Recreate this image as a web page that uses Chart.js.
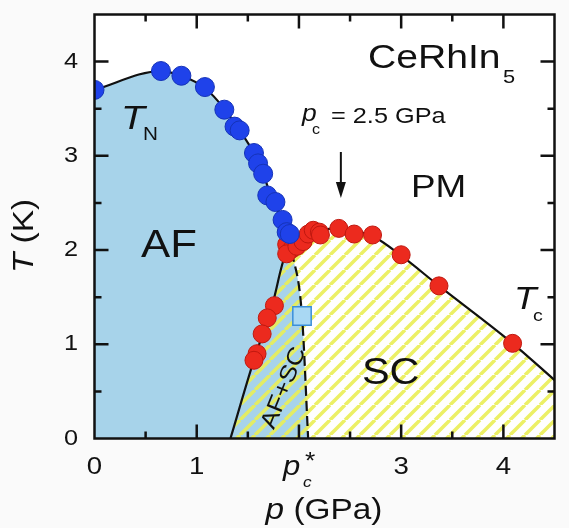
<!DOCTYPE html>
<html lang="en">
<head>
    <meta charset="UTF-8">
    <title>CeRhIn5 phase diagram</title>
    <script src="https://cdn.jsdelivr.net/npm/chart.js"></script>
    <style>
        html, body { margin: 0; padding: 0; background: #fafafa; }
        #wrap { width: 569px; height: 528px; }
    </style>
</head>
<body>
    <div id="wrap"><canvas id="myChart"></canvas></div>
    <script>
        // Neel temperature points (blue)
        const tnP = [0.00, 0.65, 0.85, 1.08, 1.27, 1.37, 1.42, 1.56, 1.60, 1.65, 1.69, 1.77, 1.84, 1.88, 1.91];
        const tnT = [3.70, 3.90, 3.85, 3.73, 3.49, 3.31, 3.27, 3.03, 2.92, 2.81, 2.58, 2.51, 2.32, 2.19, 2.17];

        // superconducting Tc points (red)
        const tcP = [1.88, 1.93, 1.88, 1.98, 2.04, 2.09, 2.14, 2.20, 2.21, 2.39, 2.54, 2.72, 3.00, 3.37, 4.09,
                     1.76, 1.69, 1.64, 1.59, 1.56];
        const tcT = [2.06, 2.01, 1.96, 2.04, 2.09, 2.17, 2.21, 2.19, 2.16, 2.23, 2.17, 2.16, 1.95, 1.62, 1.01,
                     1.41, 1.28, 1.11, 0.90, 0.83];

        // p_c* marker (square)
        const sqP = [2.03];
        const sqT = [1.30];

        // T_N boundary, last part is the dashed AF / AF+SC line
        const tnLineP = [0.00, 0.65, 0.85, 1.08, 1.27, 1.42, 1.56, 1.65, 1.73, 1.84, 1.90, 1.93, 2.03, 2.09];
        const tnLineT = [3.70, 3.90, 3.85, 3.72, 3.50, 3.27, 3.03, 2.82, 2.55, 2.32, 2.12, 1.98, 1.30, 0.00];
        const dashFrom = 11;

        // AF+SC left boundary then Tc line
        const scLineP = [1.33, 1.55, 1.74, 1.87, 1.93, 2.04, 2.15, 2.40, 2.60, 2.75, 3.00, 3.37, 4.09, 4.50];
        const scLineT = [0.00, 0.80, 1.42, 1.95, 1.99, 2.10, 2.19, 2.23, 2.19, 2.13, 1.94, 1.62, 1.01, 0.62];

        const xTicks = [0, 1, 2, 3, 4];
        const yTicks = [0, 1, 2, 3, 4];

        const xy = (ps, ts) => ps.map((p, i) => ({ x: p, y: ts[i] }));

        const FONT = '"Liberation Sans", Arial, sans-serif';
        const SX = 1.15; // text in the picture is a bit wide

        function makeHatch() {
            const s = 15;
            const c = document.createElement('canvas');
            c.width = s; c.height = s;
            const g = c.getContext('2d');
            g.strokeStyle = 'rgba(234,238,84,0.9)';
            g.lineWidth = 3.5;
            g.beginPath();
            [-s, 0, s].forEach(k => { g.moveTo(k, s); g.lineTo(k + s, 0); });
            g.stroke();
            return g.createPattern(c, 'repeat');
        }

        function txt(ctx, s, x, y, size, opt = {}) {
            ctx.save();
            ctx.translate(x, y);
            if (opt.rot) ctx.rotate(opt.rot);
            ctx.scale(SX, 1);
            ctx.font = (opt.italic ? 'italic ' : '') + size + 'px ' + FONT;
            ctx.fillStyle = '#111';
            ctx.textAlign = opt.align || 'left';
            ctx.textBaseline = opt.base || 'alphabetic';
            ctx.fillText(s, 0, 0);
            ctx.restore();
        }

        function width(ctx, s, size, italic) {
            ctx.save();
            ctx.font = (italic ? 'italic ' : '') + size + 'px ' + FONT;
            const w = ctx.measureText(s).width * SX;
            ctx.restore();
            return w;
        }

        // white plot background
        const bgPlugin = {
            id: 'bg',
            beforeDraw(chart) {
                const { ctx, chartArea: a } = chart;
                ctx.save();
                ctx.fillStyle = '#ffffff';
                ctx.fillRect(a.left, a.top, a.right - a.left, a.bottom - a.top);
                ctx.restore();
            }
        };

        // frame, inward ticks, labels and annotations
        const decoPlugin = {
            id: 'deco',
            afterDraw(chart) {
                const { ctx, chartArea: a } = chart;
                const xs = chart.scales.x, ys = chart.scales.y;
                ctx.save();
                ctx.strokeStyle = '#111';
                ctx.lineWidth = 2.5;
                ctx.beginPath();
                for (let v = 0.5; v < 4.5; v += 0.5) {
                    const len = Number.isInteger(v) ? 14 : 7;
                    const px = xs.getPixelForValue(v);
                    ctx.moveTo(px, a.bottom); ctx.lineTo(px, a.bottom - len);
                    ctx.moveTo(px, a.top); ctx.lineTo(px, a.top + len);
                    const py = ys.getPixelForValue(v);
                    ctx.moveTo(a.left, py); ctx.lineTo(a.left + len, py);
                    ctx.moveTo(a.right, py); ctx.lineTo(a.right - len, py);
                }
                ctx.stroke();
                ctx.strokeRect(a.left, a.top, a.right - a.left, a.bottom - a.top);

                // tick labels
                yTicks.forEach(v => txt(ctx, String(v), 71, ys.getPixelForValue(v), 22, { align: 'center', base: 'middle' }));
                xTicks.forEach(v => {
                    const px = xs.getPixelForValue(v);
                    if (v === 2) {
                        txt(ctx, 'p', px - 16, 475, 27, { italic: true });
                        txt(ctx, 'c', px + 4, 487, 15, { italic: true });
                        txt(ctx, '*', px + 6, 451, 23, { base: 'top' });
                    } else {
                        txt(ctx, String(v), px, 467, 24, { align: 'center', base: 'middle' });
                    }
                });

                // axis titles
                const w1 = width(ctx, 'p', 29, true), w2 = width(ctx, ' (GPa)', 29, false);
                const x0 = 324 - (w1 + w2) / 2;
                txt(ctx, 'p', x0, 519, 29, { italic: true });
                txt(ctx, ' (GPa)', x0 + w1, 519, 29);
                const t1 = width(ctx, 'T', 29, true), t2 = width(ctx, ' (K)', 29, false);
                const yc = 236 + (t1 + t2) / 2;
                txt(ctx, 'T', 33, yc, 29, { italic: true, rot: -Math.PI / 2 });
                txt(ctx, ' (K)', 33, yc - t1, 29, { rot: -Math.PI / 2 });

                // labels in the plot
                txt(ctx, 'CeRhIn', 368, 68, 34);
                txt(ctx, '5', 503, 83, 19);
                txt(ctx, 'p', 302, 121, 23, { italic: true });
                txt(ctx, 'c', 312, 134, 14);
                txt(ctx, '= 2.5 GPa', 331, 123, 22);
                txt(ctx, 'PM', 411, 197, 32);
                txt(ctx, 'AF', 141, 257, 38);
                txt(ctx, 'SC', 362, 384, 36);
                txt(ctx, 'AF+SC', 284, 388, 23, { align: 'center', base: 'middle', rot: -68 * Math.PI / 180 });
                txt(ctx, 'T', 121, 129, 34, { italic: true });
                txt(ctx, 'N', 143, 140, 18);
                txt(ctx, 'T', 514, 309, 32, { italic: true });
                txt(ctx, 'c', 533, 321, 17);

                // arrow at p_c
                const ax = xs.getPixelForValue(2.41);
                ctx.lineWidth = 2;
                ctx.beginPath();
                ctx.moveTo(ax, 152); ctx.lineTo(ax, 184);
                ctx.stroke();
                ctx.fillStyle = '#111';
                ctx.beginPath();
                ctx.moveTo(ax - 5, 182); ctx.lineTo(ax + 5, 182); ctx.lineTo(ax, 198);
                ctx.closePath();
                ctx.fill();
                ctx.restore();
            }
        };

        const ctx = document.getElementById('myChart').getContext('2d');
        const myChart = new Chart(ctx, {
            type: 'scatter',
            data: {
                datasets: [
                    {
                        // AF region fill
                        type: 'line',
                        data: xy(tnLineP, tnLineT),
                        borderWidth: 0,
                        pointRadius: 0,
                        backgroundColor: '#a7d3ea',
                        fill: 'origin',
                        cubicInterpolationMode: 'monotone',
                        order: 5
                    },
                    {
                        // SC hatch fill
                        type: 'line',
                        data: xy(scLineP, scLineT),
                        borderWidth: 0,
                        pointRadius: 0,
                        backgroundColor: makeHatch(),
                        fill: 'origin',
                        cubicInterpolationMode: 'monotone',
                        order: 4
                    },
                    {
                        type: 'line',
                        data: xy(tnLineP, tnLineT),
                        borderColor: '#111',
                        borderWidth: 2.2,
                        pointRadius: 0,
                        fill: false,
                        cubicInterpolationMode: 'monotone',
                        segment: {
                            borderDash: c => c.p0DataIndex >= dashFrom ? [10, 5] : undefined
                        },
                        order: 3
                    },
                    {
                        type: 'line',
                        data: xy(scLineP, scLineT),
                        borderColor: '#111',
                        borderWidth: 2.2,
                        pointRadius: 0,
                        fill: false,
                        cubicInterpolationMode: 'monotone',
                        order: 3
                    },
                    {
                        label: 'T_N',
                        data: xy(tnP, tnT),
                        pointRadius: 9.5,
                        backgroundColor: '#1f42ea',
                        borderColor: '#1533b8',
                        borderWidth: 1,
                        clip: 0,
                        order: 1
                    },
                    {
                        label: 'T_c',
                        data: xy(tcP, tcT),
                        pointRadius: 9,
                        backgroundColor: '#ec2a1e',
                        borderColor: '#c0180f',
                        borderWidth: 1,
                        clip: 0,
                        order: 1
                    },
                    {
                        label: 'p_c*',
                        data: xy(sqP, sqT),
                        pointStyle: 'rect',
                        pointRadius: 13,
                        backgroundColor: '#a9d8f3',
                        borderColor: '#3b8fd9',
                        borderWidth: 1.5,
                        order: 0
                    }
                ]
            },
            options: {
                responsive: true,
                maintainAspectRatio: false,
                animation: false,
                events: [],
                layout: { padding: { left: 0, right: 2, top: 10, bottom: 0 } },
                plugins: { legend: { display: false }, tooltip: { enabled: false } },
                scales: {
                    x: {
                        type: 'linear', min: 0, max: 4.5,
                        grid: { display: false },
                        border: { display: false },
                        ticks: { display: false },
                        afterFit: s => { s.height = 89.5; }
                    },
                    y: {
                        type: 'linear', min: 0, max: 4.5,
                        grid: { display: false },
                        border: { display: false },
                        ticks: { display: false },
                        afterFit: s => { s.width = 94.5; }
                    }
                }
            },
            plugins: [bgPlugin, decoPlugin]
        });
    </script>
</body>
</html>
